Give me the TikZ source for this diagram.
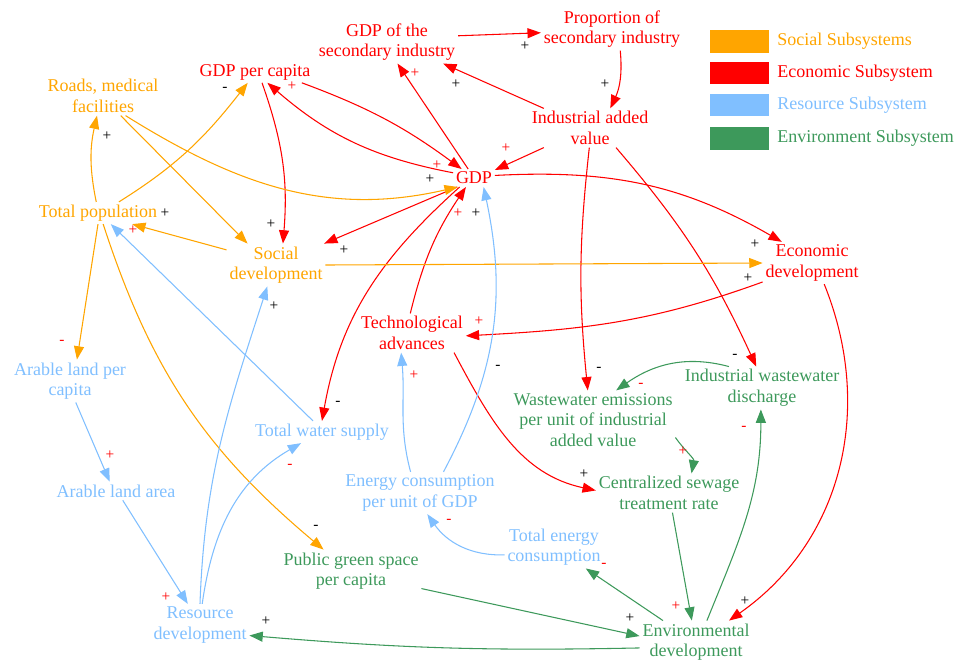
\documentclass[tikz,border=0pt]{standalone}
\usepackage{fontspec}
\setmainfont{Liberation Serif}
\newfontfamily\diagfont{LiberationSerif}[Extension=.ttf,UprightFont=*-Regular,BoldFont=*-Bold]
\usetikzlibrary{arrows.meta}
\definecolor{socC}{RGB}{255,165,0}
\definecolor{ecoC}{RGB}{255,0,0}
\definecolor{resC}{RGB}{128,191,255}
\definecolor{envC}{RGB}{61,153,91}
\tikzset{
 var/.style={align=center,inner sep=2pt,font=\diagfont\fontsize{13.5}{15.5}\selectfont},
 socvar/.style={var,text=socC},
 ecovar/.style={var,text=ecoC},
 resvar/.style={var,text=resC},
 envvar/.style={var,text=envC},
 link/.style={line width=.8pt,-{Triangle[length=10pt,width=7.5pt]}},
 soclink/.style={link,color=socC},
 ecolink/.style={link,color=ecoC},
 reslink/.style={link,color=resC},
 envlink/.style={link,color=envC},
 sign/.style={inner sep=0,font=\diagfont\fontsize{11.5}{11.5}\selectfont},
 keybox/.style={minimum width=45pt,minimum height=17.5pt,inner sep=0,draw=white,line width=.6pt}
}
\begin{document}
\begin{tikzpicture}[x=.75pt,y=.75pt]
\path[use as bounding box] (0,0) rectangle (964,-662);
% variables
\node[ecovar] (gdpsec) at (387,-42) {GDP of the\\secondary industry};
\node[ecovar] (propsec) at (612,-29) {Proportion of\\secondary industry};
\node[ecovar] (gdppc) at (255,-72) {GDP per capita};
\node[socvar] (roads) at (103,-96) {Roads, medical\\facilities};
\node[ecovar] (indav) at (590,-128) {Industrial added\\value};
\node[ecovar] (gdp) at (474,-178) {GDP};
\node[socvar] (totpop) at (98,-213) {Total population};
\node[socvar] (socdev) at (276,-265) {Social\\development};
\node[ecovar] (ecodev) at (812,-263) {Economic\\development};
\node[ecovar] (tech) at (412,-333) {Technological\\advances};
\node[resvar] (arablepc) at (70,-381) {Arable land per\\capita};
\node[resvar] (water) at (322,-432) {Total water supply};
\node[envvar] (wwemis) at (593,-420) {Wastewater emissions\\per unit of industrial\\added value};
\node[envvar] (iwwd) at (762,-388) {Industrial wastewater\\discharge};
\node[resvar] (energypu) at (420,-493) {Energy consumption\\per unit of GDP};
\node[resvar] (arablearea) at (116,-491) {Arable land area};
\node[envvar] (sewage) at (669,-493) {Centralized sewage\\treatment rate};
\node[resvar] (energytot) at (554,-547) {Total energy\\consumption};
\node[envvar] (green) at (351,-571) {Public green space\\per capita};
\node[resvar] (resdev) at (200,-625) {Resource\\development};
\node[envvar] (envdev) at (696,-642) {Environmental\\development};
% legend
\foreach \y/\c/\t [count=\i] in {41.5/socC/Social Subsystems,73/ecoC/Economic Subsystem,105/resC/Resource Subsystem,138.5/envC/Environment Subsystem}{
 \node[keybox,fill=\c] (key\i) at (739,-\y) {};
 \node[var,text=\c,anchor=west,inner sep=0] (lab\i) at (777,-\y) {\t};
}
% economic links
\draw[ecolink] (gdpsec.5) -- (propsec.183);
\draw[ecolink] (propsec.-69) to[bend left=15] (indav.44);
\draw[ecolink] (indav.157) -- (gdpsec.-21);
\draw[ecolink] (gdp.123) -- (gdpsec.-64);
\draw[ecolink] (indav.203) -- (gdp.21);
\draw[ecolink] (gdp.166) to[bend left=15] (gdppc.-41);
\draw[ecolink] (gdppc.-13) to[bend left=8] (gdp.144);
\draw[ecolink] (gdppc.-57) to[bend left=12] (socdev.72);
\draw[ecolink] (gdp.208) -- (socdev.24);
\draw[ecolink] (tech.95) to[bend left=10] (gdp.228);
\draw[ecolink] (gdp.212) to[out=222,in=80] (water.90);
\draw[ecolink] (gdp.7) to[out=3,in=150] (ecodev.145);
\draw[ecolink] (ecodev.201) to[out=200,in=3] (tech.-3);
\draw[ecolink] (ecodev.-60) to[out=-68,in=35] (envdev.33);
\draw[ecolink] (indav.-92) to[bend right=6] (wwemis.100);
\draw[ecolink] (indav.-37) to[bend left=8] (iwwd.105);
\draw[ecolink] (tech.-25) to[out=-62,in=168] (sewage.178);
% social links
\draw[soclink] (socdev.east) -- (ecodev.west);
\draw[soclink] (totpop.99) to[bend left=12] (roads.-107);
\draw[soclink] (totpop.28) to[out=32,in=-128] (gdppc.-124);
\draw[soclink] (roads.-41) to[out=-32,in=193] (gdp.209);
\draw[soclink] (roads.-48) -- (socdev.143);
\draw[soclink] (socdev.163) -- (totpop.-18);
\draw[soclink] (totpop.-90) -- (arablepc.72);
\draw[soclink] (totpop.-65) to[out=-72,in=140] (green.142);
% resource links
\draw[reslink] (energypu.42) to[out=62,in=-78] (gdp.-43);
\draw[reslink] (energytot.189) to[out=182,in=-55] (energypu.-71);
\draw[reslink] (energypu.114) to[out=105,in=-85] (tech.-119);
\draw[reslink] (water.129) -- (totpop.-41);
\draw[reslink] (arablepc.-75) -- (arablearea.124);
\draw[reslink] (arablearea.-54) -- (resdev.120);
\draw[reslink] (resdev.90) to[out=88,in=-108] (socdev.-112);
\draw[reslink] (resdev.84) to[out=82,in=210] (water.208);
% environment links
\draw[envlink] (iwwd.147) to[out=165,in=35] (wwemis.52);
\draw[envlink] (wwemis.-12) to[out=-55,in=80] (sewage.41);
\draw[envlink] (sewage.-80) -- (envdev.101);
\draw[envlink] (envdev.63) to[out=68,in=-90] (iwwd.-93);
\draw[envlink] (envdev.147) -- (energytot.-34);
\draw[envlink] (green.-14) -- (envdev.174);
\draw[envlink] (envdev.186) to[bend left=3] (resdev.-12);
% polarities
\foreach \x/\y/\c/\s [count=\i] in {525/46/black/+,605/84/black/+,456/84/black/+,415/73/ecoC/+,
 506/148/ecoC/+,292/86/ecoC/+,437/165/ecoC/+,430/179/black/+,225/89/black/-,107/136/black/+,
 165/213/black/+,133/230/ecoC/+,271/224/black/+,344/250/black/+,458/213/ecoC/+,476/213/black/+,
 755/244/black/+,748/278/black/+,479/321/ecoC/+,62/342/ecoC/-,274/306/black/+,498/367/black/-,
 599/369/black/-,735/356/black/-,641/385/ecoC/-,414/375/ecoC/+,338/403/black/-,110/455/ecoC/+,
 290/466/ecoC/-,683/451/ecoC/+,584/474/black/+,744/428/ecoC/-,449/521/ecoC/-,316/527/black/-,
 604/565/ecoC/-,166/597/ecoC/+,266/621/black/+,630/618/black/+,676/606/ecoC/+,745/601/black/+}
 \node[sign,text=\c] (sg\i) at (\x,-\y) {\s};
\end{tikzpicture}
\end{document}
